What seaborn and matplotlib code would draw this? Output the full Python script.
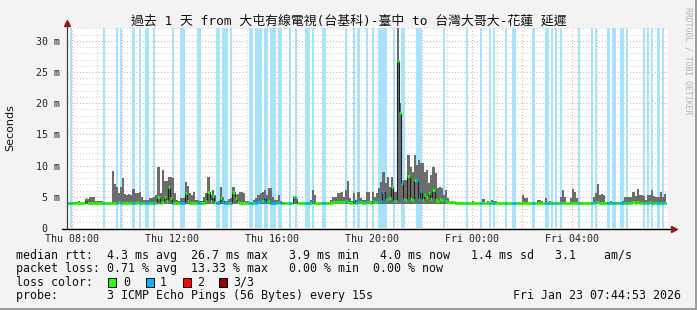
import numpy as np
import pandas as pd
import matplotlib
matplotlib.use("Agg")
import matplotlib.pyplot as plt
import seaborn as sns
from matplotlib.patches import Rectangle
from matplotlib.lines import Line2D
from matplotlib.ticker import FixedLocator, FixedFormatter, MultipleLocator

# ---------------- data ----------------
title = "過去 1 天 from 大屯有線電視(台基科)-臺中 to 台灣大哥大-花蓮 延遲"
start_hour = 7.75          # Thu 07:45 (hours since Thu 00:00)
step_min = 5               # RRD step in minutes
rtt_min = 3.9              # lower edge of the smoke (ms)

# smoke top (max ping, ms), one row per hour starting at hh:45, 12 x 5-min steps
smoke_rows = [
    [4.0, 4.0, 4.0, 4.2, 4.2, 4.2, 4.3, 4.0, 4.0, 4.6, 4.6, 4.9],
    [4.9, 4.9, 4.3, 4.3, 4.3, 4.3, 4.0, 4.0, 4.0, 4.0, 9.2, 7.0],
    [6.5, 5.6, 6.6, 8.0, 5.4, 5.3, 5.4, 5.3, 6.3, 5.6, 5.6, 5.7],
    [5.0, 4.5, 4.5, 4.5, 4.8, 4.8, 5.0, 5.3, 9.8, 5.6, 9.3, 7.6],
    [7.5, 8.2, 8.2, 8.0, 5.6, 4.5, 4.3, 4.8, 4.8, 7.4, 6.7, 5.6],
    [5.3, 5.7, 4.5, 4.5, 4.3, 4.3, 4.9, 5.6, 8.2, 5.3, 6.1, 5.3],
    [4.2, 4.3, 6.6, 5.0, 4.3, 4.3, 4.6, 4.8, 6.5, 5.3, 5.4, 5.8],
    [5.8, 5.6, 4.4, 4.4, 4.2, 4.2, 4.5, 4.8, 5.3, 5.6, 5.8, 6.1],
    [5.3, 6.4, 6.4, 4.9, 4.5, 4.5, 5.3, 4.4, 4.2, 4.0, 4.0, 4.0],
    [4.0, 4.9, 4.9, 4.0, 4.0, 4.0, 4.0, 4.0, 4.0, 4.5, 6.1, 5.3],
    [4.0, 4.0, 4.0, 4.2, 4.2, 4.2, 4.1, 4.5, 4.9, 4.9, 5.6, 5.6],
    [5.8, 5.0, 6.1, 7.6, 4.8, 4.4, 5.6, 4.5, 5.7, 4.8, 4.5, 4.5],
    [5.8, 5.8, 4.3, 5.8, 4.9, 5.6, 6.4, 7.4, 9.0, 7.2, 8.2, 6.6],
    [8.2, 5.8, 5.8, 33.0, 20.0, 7.5, 7.7, 7.7, 11.7, 9.8, 9.0, 11.7],
    [10.1, 10.9, 10.4, 10.4, 9.0, 9.3, 7.2, 8.5, 9.8, 8.8, 6.4, 6.5],
    [6.4, 5.3, 6.1, 4.8, 4.3, 4.2, 4.2, 4.1, 4.1, 4.1, 4.1, 4.0],
    [4.0, 4.0, 4.0, 4.4, 4.0, 4.0, 4.0, 4.0, 4.6, 4.0, 4.3, 4.0],
    [4.5, 4.3, 4.3, 4.0, 4.0, 4.0, 4.0, 4.0, 4.0, 4.0, 4.0, 4.0],
    [4.0, 4.0, 4.0, 5.3, 4.8, 4.8, 4.0, 4.0, 4.0, 4.0, 4.5, 4.5],
    [4.4, 4.0, 4.8, 4.0, 4.4, 4.0, 4.0, 4.0, 4.0, 4.9, 6.1, 4.9],
    [4.0, 4.0, 4.8, 6.2, 5.7, 4.8, 4.0, 4.0, 4.0, 4.0, 4.0, 4.0],
    [4.0, 4.9, 5.6, 7.0, 5.3, 5.4, 5.3, 4.2, 4.1, 4.4, 4.1, 4.1],
    [4.2, 4.2, 4.2, 4.3, 4.9, 4.9, 4.9, 4.9, 5.8, 5.1, 6.2, 5.3],
    [5.3, 5.1, 4.5, 5.3, 5.3, 6.1, 5.1, 4.9, 5.0, 5.7, 4.9, 5.5],
]

# median rtt (ms), same layout
median_rows = [
    [4.0, 4.0, 4.0, 4.0, 4.0, 4.0, 4.0, 4.0, 4.0, 4.6, 4.0, 4.0],
    [4.0, 4.0, 4.0, 4.0, 4.0, 4.0, 4.0, 4.0, 4.0, 4.0, 4.0, 4.0],
    [4.0, 4.1, 4.0, 4.0, 4.0, 4.0, 4.0, 4.0, 4.0, 4.0, 4.1, 4.0],
    [4.0, 4.0, 4.0, 4.0, 4.0, 4.0, 4.0, 4.0, 4.9, 4.0, 4.2, 5.0],
    [4.3, 6.5, 4.8, 4.0, 4.0, 4.0, 4.0, 4.0, 4.0, 5.6, 4.3, 4.0],
    [4.0, 4.0, 4.0, 4.0, 4.0, 4.0, 4.0, 4.3, 5.7, 4.3, 5.1, 4.2],
    [4.0, 4.0, 4.8, 4.3, 4.0, 4.0, 4.0, 4.0, 5.8, 4.8, 4.1, 4.0],
    [4.0, 4.0, 4.0, 4.0, 4.0, 4.0, 4.0, 4.0, 4.2, 4.4, 4.3, 4.9],
    [4.2, 4.3, 4.0, 4.0, 4.0, 4.0, 4.1, 4.0, 4.0, 4.0, 4.0, 4.0],
    [4.0, 4.9, 4.6, 4.0, 4.0, 4.0, 4.0, 4.0, 4.0, 4.0, 4.3, 4.0],
    [4.0, 4.0, 4.0, 4.0, 4.0, 4.0, 4.0, 4.0, 4.1, 4.1, 4.2, 4.1],
    [4.2, 4.1, 4.3, 4.2, 4.0, 4.0, 4.5, 4.0, 4.2, 4.1, 4.0, 4.0],
    [4.1, 4.2, 4.0, 4.3, 4.1, 4.2, 4.5, 4.4, 5.8, 4.5, 4.6, 4.8],
    [6.6, 4.3, 4.4, 26.7, 18.5, 7.2, 4.6, 4.5, 8.3, 4.6, 4.5, 7.7],
    [7.7, 4.6, 6.0, 4.5, 5.3, 4.9, 5.6, 4.6, 6.1, 4.5, 4.4, 4.6],
    [4.5, 4.6, 4.4, 4.2, 4.1, 4.1, 4.1, 4.0, 4.0, 4.0, 4.0, 4.0],
    [4.0, 4.0, 4.0, 4.0, 4.0, 4.0, 4.0, 4.0, 4.0, 4.0, 4.0, 4.0],
    [4.0, 4.0, 4.0, 4.0, 4.0, 4.0, 4.0, 4.0, 4.0, 4.0, 4.0, 4.0],
    [4.0, 4.0, 4.0, 4.0, 4.0, 4.0, 4.0, 4.0, 4.0, 4.0, 4.0, 4.0],
    [4.0, 4.0, 4.0, 4.0, 4.0, 4.0, 4.0, 4.0, 4.0, 4.0, 4.0, 4.0],
    [4.0, 4.0, 4.0, 4.0, 4.0, 4.0, 4.0, 4.0, 4.0, 4.0, 4.0, 4.0],
    [4.0, 4.0, 4.1, 4.1, 4.0, 4.0, 4.0, 4.0, 4.0, 4.0, 4.0, 4.0],
    [4.0, 4.0, 4.0, 4.0, 4.0, 4.0, 4.0, 4.0, 4.1, 4.0, 4.1, 4.0],
    [4.0, 4.0, 4.0, 4.0, 4.1, 4.0, 4.0, 4.0, 4.0, 4.0, 4.0, 4.0],
]

# loss periods: (start clock time, number of 5-min steps)
loss_events = [
    ("07:55", 1), ("09:15", 1), ("09:45", 1), ("09:55", 1), ("10:25", 1),
    ("10:40", 1), ("10:55", 2), ("11:15", 1), ("12:00", 1), ("12:20", 2),
    ("13:00", 2), ("13:45", 2), ("14:00", 3), ("14:20", 1), ("15:05", 2),
    ("15:20", 3), ("15:40", 2), ("15:55", 3), ("16:15", 2), ("16:40", 1),
    ("16:55", 1), ("17:20", 2), ("17:35", 1), ("18:00", 2), ("18:55", 1),
    ("19:15", 1), ("19:25", 1), ("19:45", 1), ("20:00", 1), ("20:15", 4),
    ("20:50", 1), ("21:10", 2), ("21:45", 3), ("22:50", 1), ("23:45", 1),
    ("00:20", 1), ("00:40", 1), ("00:50", 1), ("01:20", 1), ("01:35", 2),
    ("02:25", 1), ("02:55", 1), ("03:00", 1), ("03:10", 1), ("03:20", 1),
    ("03:30", 1), ("04:15", 1), ("04:45", 1), ("04:55", 1), ("05:25", 1),
    ("05:35", 1), ("05:40", 1), ("05:55", 1), ("06:00", 1), ("06:10", 1),
    ("06:50", 1), ("07:00", 1), ("07:10", 1), ("07:25", 1), ("07:35", 1),
]

x_tick_hours = [8, 12, 16, 20, 24, 28]
x_tick_labels = ["Thu 08:00", "Thu 12:00", "Thu 16:00", "Thu 20:00", "Fri 00:00", "Fri 04:00"]
y_ticks = [0, 5, 10, 15, 20, 25, 30]
y_tick_labels = ["0  ", "5 m", "10 m", "15 m", "20 m", "25 m", "30 m"]

legend_median = "median rtt:  4.3 ms avg  26.7 ms max   3.9 ms min   4.0 ms now   1.4 ms sd   3.1    am/s"
legend_loss = "packet loss: 0.71 % avg  13.33 % max   0.00 % min  0.00 % now"
legend_color_title = "loss color:"
loss_color_names = ["0", "1", "2", "3/3"]
loss_colors = ["#26ff00", "#00b8ff", "#ff0000", "#990000"]
legend_probe = "probe:       3 ICMP Echo Pings (56 Bytes) every 15s"
stamp = "Fri Jan 23 07:44:53 2026"
watermark = "RRDTOOL / TOBI OETIKER"

# ---------------- derived ----------------
W, H = 697, 310
step_h = step_min / 60.0
smoke = np.array(smoke_rows).ravel()
median = np.array(median_rows).ravel()
n = len(smoke)
t = start_hour + np.arange(n) * step_h


def clock_to_hour(s):
    hh, mm = s.split(":")
    h = int(hh) + int(mm) / 60.0
    if h < start_hour - 1e-9:
        h += 24
    return h


loss_start = np.array([clock_to_hour(s) for s, _ in loss_events])
loss_len = np.array([k for _, k in loss_events]) * step_h
loss_step = np.zeros(n, dtype=int)
for s0, ln in zip(loss_start, loss_len):
    i0 = int(round((s0 - start_hour) / step_h))
    loss_step[i0:i0 + int(round(ln / step_h))] = 1

# ---------------- figure ----------------
sns.set_style("white")
plt.rcParams["font.family"] = ["DejaVu Sans Mono", "Noto Sans CJK TC"]

fig = plt.figure(figsize=(W / 100, H / 100), dpi=100)
fig.patch.set_facecolor("#f3f3f3")


def fx(x):
    return x / W


def fy(y):
    return 1 - y / H


ax = fig.add_axes([fx(67), fy(228), fx(668) - fx(67), fy(28) - fy(228)])
ax.set_facecolor("white")
ax.set_xlim(7.8, 31.84)
ax.set_ylim(0, 32.05)

# grid
ax.xaxis.set_major_locator(FixedLocator(np.arange(8, 32, 2)))
ax.xaxis.set_minor_locator(FixedLocator(np.arange(9, 32, 2)))
ax.yaxis.set_major_locator(FixedLocator(y_ticks))
ax.yaxis.set_minor_locator(MultipleLocator(1))
ax.set_axisbelow(True)
ax.grid(which="major", color="#f2a0a0", linestyle=(0, (1, 2)), linewidth=0.75)
ax.grid(which="minor", color="#d2d2d2", linestyle=(0, (1, 2)), linewidth=0.75)

# loss background bars
top = ax.get_ylim()[1]
ax.bar(loss_start, top, width=loss_len, bottom=0, align="edge",
       color="#a9e3fa", linewidth=0, zorder=1)

# smoke
ax.bar(t, smoke - rtt_min, width=step_h, bottom=rtt_min, align="edge",
       color="#6c6c6c", linewidth=0, zorder=2)

# median thin dark line (steps)
df = pd.DataFrame({"t": np.append(t, t[-1] + step_h), "median": np.append(median, median[-1])})
sns.lineplot(data=df, x="t", y="median", drawstyle="steps-post", color="#202020",
             linewidth=0.8, ax=ax, zorder=3)
# median coloured by loss
seg_colors = [loss_colors[k] for k in loss_step]
ax.hlines(median, t, t + step_h, colors=seg_colors, linewidth=2.2, zorder=4)

ax.set_xlabel("")
ax.set_ylabel("")

# ticks & labels
labels_map = dict(zip(x_tick_hours, x_tick_labels))
ax.set_xticklabels([labels_map.get(int(h), "") for h in np.arange(8, 32, 2)])
ax.set_yticks(y_ticks)
ax.set_yticklabels(y_tick_labels)
ax.tick_params(axis="x", which="major", direction="out", length=2.5, width=0.8,
               color="#e85050", pad=2, labelsize=7.2, labelcolor="#222222")
ax.tick_params(axis="x", which="minor", direction="out", length=1.5, width=0.8, color="#b0b0b0")
ax.tick_params(axis="y", which="major", direction="out", length=3, width=0.8,
               color="#555555", pad=2, labelsize=7.2, labelcolor="#222222")
ax.tick_params(axis="y", which="minor", direction="out", length=1.5, width=0.6, color="#999999")
for s in ax.spines.values():
    s.set_visible(False)

# axes lines with arrows
fig.add_artist(Line2D([fx(66.5), fx(66.5)], [fy(228), fy(24)], color="#404040", lw=0.9))
fig.add_artist(Line2D([fx(62), fx(672)], [fy(228.5), fy(228.5)], color="#000000", lw=1.0))
fig.add_artist(Line2D([fx(66.5)], [fy(23)], marker="^", markersize=5, color="#8e1a1a", lw=0))
fig.add_artist(Line2D([fx(674)], [fy(228.5)], marker=">", markersize=5, color="#8e1a1a", lw=0))

# texts
fig.text(fx(349), fy(21), title, ha="center", va="center", fontsize=9.3, color="#111111",
         family=["DejaVu Sans Mono", "Noto Sans CJK TC"])
fig.text(fx(10.5), fy(128), "Seconds", rotation=90, ha="center", va="center",
         fontsize=8, family="DejaVu Sans", color="#111111")
fig.text(fx(688), fy(61), watermark, rotation=270, ha="center", va="center",
         fontsize=5.9, color="#b4b4b4", family="DejaVu Sans Mono")

mono = dict(fontsize=8.4, family="DejaVu Sans Mono", color="#111111", va="center")
fig.text(fx(16), fy(255), legend_median, ha="left", **mono)
fig.text(fx(16), fy(268.5), legend_loss, ha="left", **mono)
fig.text(fx(16), fy(282), legend_color_title, ha="left", **mono)
sq_x = [108, 146, 183, 219]
lab_x = [123, 160, 197, 233]
for sx, lx, c, name in zip(sq_x, lab_x, loss_colors, loss_color_names):
    fig.add_artist(Rectangle((fx(sx), fy(286.5)), 8 / W, 8.5 / H, facecolor=c,
                             edgecolor="#000000", linewidth=0.7, transform=fig.transFigure))
    fig.text(fx(lx), fy(282), name, ha="left", **mono)
fig.text(fx(16), fy(295.5), legend_probe, ha="left", **mono)
fig.text(fx(681), fy(295.5), stamp, ha="right", **mono)

# 3D-ish frame
fig.add_artist(Rectangle((fx(694.5), 0), 2.5 / W, 1, facecolor="#9c9c9c", edgecolor="none",
                         transform=fig.transFigure))
fig.add_artist(Rectangle((0, 0), 1, 2.5 / H, facecolor="#9c9c9c", edgecolor="none",
                         transform=fig.transFigure))

fig.savefig("out.png", dpi=100, facecolor=fig.get_facecolor())
